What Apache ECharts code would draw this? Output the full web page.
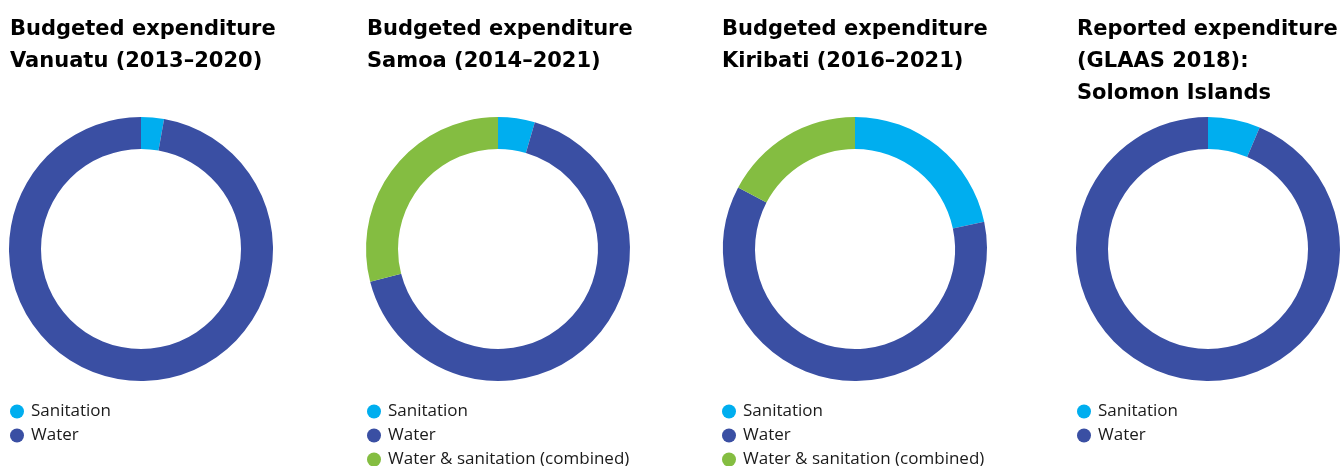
<!DOCTYPE html>
<html>
<head>
<meta charset="utf-8">
<script src="https://cdn.jsdelivr.net/npm/echarts@6/dist/echarts.min.js"></script>
<style>
  html, body { margin: 0; padding: 0; background: #fff; }
  #chart { width: 1342px; height: 466px; }
</style>
</head>
<body>
<div id="chart"></div>
<script>
// Shares of WASH expenditure (%) per country
const categories = ['Sanitation', 'Water', 'Water & sanitation (combined)'];
const titles = [
  'Budgeted expenditure\nVanuatu (2013–2020)',
  'Budgeted expenditure\nSamoa (2014–2021)',
  'Budgeted expenditure\nKiribati (2016–2021)',
  'Reported expenditure\n(GLAAS 2018):\nSolomon Islands'
];
const vanuatu = [2.8, 97.2, null];
const samoa = [4.5, 66.5, 29.0];
const kiribati = [21.7, 61.0, 17.3];
const solomon = [6.4, 93.6, null];

const colors = ['#00AEEF', '#3A4FA3', '#84BD41'];
const panels = [
  { values: vanuatu, x: 10, cx: 141 },
  { values: samoa, x: 367, cx: 498 },
  { values: kiribati, x: 722, cx: 855 },
  { values: solomon, x: 1077, cx: 1208 }
];

const chart = echarts.init(document.getElementById('chart'), null, { renderer: 'canvas' });

const option = {
  animation: false,
  title: panels.map((p, i) => ({
    text: titles[i],
    left: p.x,
    top: 14,
    padding: 0,
    textStyle: {
      fontFamily: 'DejaVu Sans',
      fontWeight: 'bold',
      fontSize: 21,
      lineHeight: 32,
      color: '#000'
    }
  })),
  legend: panels.map((p) => ({
    orient: 'vertical',
    left: p.x,
    top: 403,
    height: 90,
    width: 320,
    padding: 0,
    icon: 'circle',
    itemWidth: 14,
    itemHeight: 14,
    itemGap: 7,
    selectedMode: false,
    textStyle: { fontFamily: 'Open Sans', fontSize: 17, color: '#1a1a1a', padding: [0, 0, 0, 2] },
    data: categories.filter((c, k) => p.values[k] != null)
  })),
  series: panels.map((p) => ({
    type: 'pie',
    center: [p.cx, 249],
    radius: [100, 132],
    startAngle: 90,
    clockwise: true,
    label: { show: false },
    labelLine: { show: false },
    emphasis: { disabled: true },
    itemStyle: { borderWidth: 0 },
    data: categories
      .map((c, k) => ({ name: c, value: p.values[k], itemStyle: { color: colors[k] } }))
      .filter(d => d.value != null)
  }))
};

chart.setOption(option);
</script>
</body>
</html>
